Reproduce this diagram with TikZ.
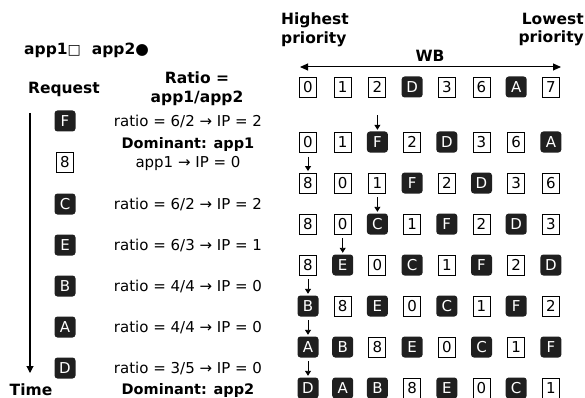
\documentclass[tikz,border=0pt]{standalone}
\usepackage{fontspec}
\setmainfont{DejaVu Sans}
\usetikzlibrary{arrows.meta}
\tikzset{
  boxo/.style={draw=black, line width=0.9pt, fill=white, minimum width=17pt, minimum height=20pt, inner sep=0pt, font=\fontsize{15}{15}\selectfont},
  boxf/.style={fill=black!88, rounded corners=3pt, minimum width=21pt, minimum height=21pt, inner sep=0pt, text=white, font=\fontsize{15}{15}\selectfont},
  lbl/.style={font=\bfseries\fontsize{15.5}{18.5}\selectfont, inner sep=0pt},
  txt/.style={font=\fontsize{15}{17}\selectfont, inner sep=0pt, anchor=base},
  insarrow/.style={line width=0.9pt, -{Triangle[length=5pt,width=6pt]}},
}
\begin{document}
\begin{tikzpicture}[x=1pt,y=-1pt]
\useasboundingbox (0,0) rectangle (585,398);

% legend and headings
\node[lbl, anchor=base west] (legend) at (24,55) {app1{\fontsize{14}{14}\selectfont□}\hspace{11pt}app2●};
\node[lbl, anchor=base] (request) at (64,94) {Request};
\node[lbl, anchor=north, align=center] (ratiohead) at (197,72) {Ratio =\\app1/app2};
\node[lbl, anchor=north west, align=left] (highest) at (281,13) {Highest\\priority};
\node[lbl, anchor=north east, align=right] (lowest) at (584,13) {Lowest\\priority};
\node[lbl] (wb) at (430,56) {WB};
\node[lbl, anchor=base] (time) at (31,395) {Time};

% WB arrow
\coordinate (wbL) at (300,67);
\coordinate (wbR) at (561,67);
\draw[line width=1pt, {Triangle[length=8pt,width=7pt]}-{Triangle[length=8pt,width=7pt]}] (wbL) -- (wbR);

% time line
\coordinate (tTop) at (30,113);
\coordinate (tEnd) at (30,373);
\draw[line width=1.1pt, -{Triangle[length=7pt,width=7pt]}] (tTop) -- (tEnd);

% request column
\foreach \s/\t/\y in {f/F/121, o/8/162, f/C/204, f/E/245, f/B/286, f/A/327, f/D/368}
  \node[box\s] (l\t) at (65,\y) {\t};

% ratio texts
\node[txt] (tF) at (188,126.5) {ratio = 6/2 → IP = 2};
\node[txt, font=\bfseries\fontsize{14.5}{17}\selectfont] (dom1) at (188,148) {Dominant: app1};
\node[txt] (t8) at (188,167.5) {app1 → IP = 0};
\node[txt] (tC) at (188,209.5) {ratio = 6/2 → IP = 2};
\node[txt] (tE) at (188,250.5) {ratio = 6/3 → IP = 1};
\node[txt] (tB) at (188,291.5) {ratio = 4/4 → IP = 0};
\node[txt] (tA) at (188,332.5) {ratio = 4/4 → IP = 0};
\node[txt] (tD) at (188,373.5) {ratio = 3/5 → IP = 0};
\node[txt, font=\bfseries\fontsize{14.5}{17}\selectfont] (dom2) at (188,394) {Dominant: app2};

% WB grid
\foreach \r/\y/\items in {
  0/87/{o/0,o/1,o/2,f/D,o/3,o/6,f/A,o/7},
  1/142/{o/0,o/1,f/F,o/2,f/D,o/3,o/6,f/A},
  2/183/{o/8,o/0,o/1,f/F,o/2,f/D,o/3,o/6},
  3/224/{o/8,o/0,f/C,o/1,f/F,o/2,f/D,o/3},
  4/265/{o/8,f/E,o/0,f/C,o/1,f/F,o/2,f/D},
  5/306/{f/B,o/8,f/E,o/0,f/C,o/1,f/F,o/2},
  6/347/{f/A,f/B,o/8,f/E,o/0,f/C,o/1,f/F},
  7/388/{f/D,f/A,f/B,o/8,f/E,o/0,f/C,o/1}}{
  \foreach \s/\t [count=\c from 0] in \items
    \node[box\s] (r\r-\c) at ({308+34.7*\c},\y) {\t};
}

% insertion arrows
\foreach \r/\c in {1/2, 2/0, 3/2, 4/1, 5/0, 6/0, 7/0}
  \draw[insarrow] ([yshift=16pt]r\r-\c.north) -- ([yshift=1.5pt]r\r-\c.north);
\end{tikzpicture}
\end{document}
